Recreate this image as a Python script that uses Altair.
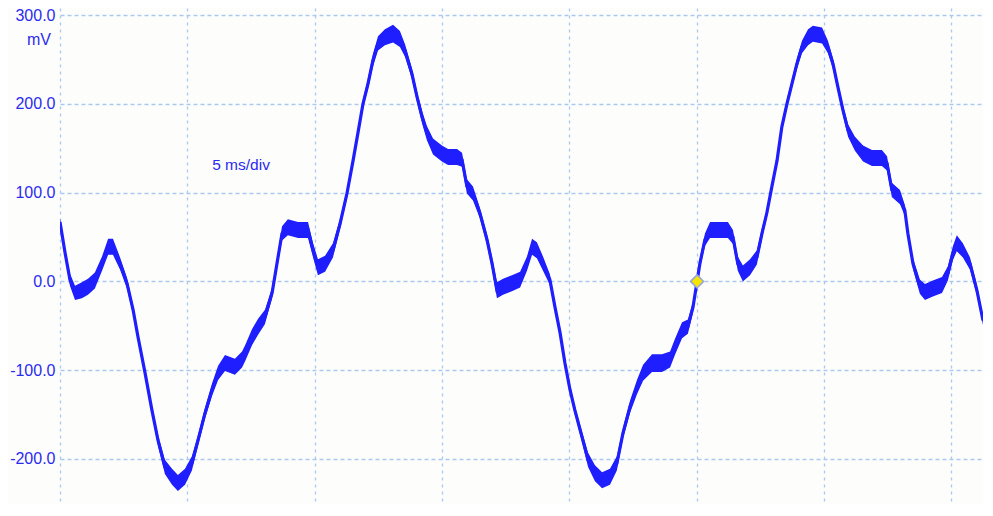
import altair as alt
import pandas as pd

# ---- data ----
time_ms = [0.00, 0.20, 0.39, 0.59, 0.86, 1.10, 1.37, 1.65, 1.89, 2.08, 2.36, 2.63, 2.87, 3.06, 3.34,
           3.61, 3.85, 4.12, 4.40, 4.63, 4.91, 5.18, 5.42, 5.69, 5.97, 6.21, 6.48, 6.87, 7.15, 7.27,
           7.54, 7.78, 8.05, 8.33, 8.52, 8.72, 8.95, 9.35, 9.74, 9.94, 10.13, 10.41, 10.72, 11.00,
           11.27, 11.51, 11.70, 11.90, 12.10, 12.29, 12.49, 12.76, 13.08, 13.35, 13.55, 13.82, 14.02,
           14.22, 14.41, 14.65, 15.00, 15.24, 15.59, 15.79, 15.98, 16.22, 16.49, 16.77, 16.97, 17.16,
           17.40, 17.75, 18.07, 18.34, 18.54, 18.73, 18.97, 19.24, 19.44, 19.64, 19.83, 20.03, 20.22,
           20.50, 20.74, 21.01, 21.29, 21.60, 21.87, 22.11, 22.39, 22.66, 22.90, 23.25, 23.64, 23.96,
           24.15, 24.43, 24.66, 24.86, 25.02, 25.13, 25.33, 25.53, 25.84, 26.23, 26.43, 26.62, 26.82,
           27.10, 27.37, 27.57, 27.76, 27.96, 28.16, 28.35, 28.55, 28.75, 28.94, 29.14, 29.38, 29.57,
           29.93, 30.16, 30.36, 30.55, 30.75, 30.95, 31.22, 31.54, 31.89, 32.28, 32.48, 32.67, 32.99,
           33.18, 33.30, 33.50, 33.77, 33.97, 34.28, 34.64, 34.87, 35.07, 35.22, 35.46, 35.74, 36.01,
           36.25]
voltage_mv = [67, 32, 2, -13, -10, -6, 1, 20, 39, 39, 20, -2, -32, -62, -103,
              -145, -179, -209, -220, -227, -220, -205, -179, -149, -122, -103, -92, -96, -88, -81,
              -63, -51, -40, -13, 20, 54, 61, 58, 58, 35, 16, 20, 35, 65,
              99, 136, 167, 200, 223, 249, 268, 275, 279, 273, 260, 234, 208,
              185, 167, 152, 144, 140, 140, 137, 107, 99, 77, 47, 20, -10,
              -6, -2, 2, 20, 39, 35, 20, 2, -29, -58, -92, -122, -145,
              -175, -201, -216, -224, -220, -205, -171, -141, -119, -103, -92, -92, -88,
              -74, -55, -51, -29, 0, 20, 47, 58, 58, 58, 50, 20, 9,
              16, 27, 54, 77, 107, 136, 174, 200, 223, 245, 264, 275, 279,
              277, 264, 245, 219, 193, 170, 155, 144, 139, 139, 133, 103, 95,
              80, 54, 20, -6, -12, -8, -4, 9, 32, 43, 35, 20, -10,
              -44]
# half-thickness of the noisy trace (mV)
spread_mv = [4, 5, 7, 8, 9, 9, 9, 8, 9, 9, 7, 6, 5, 5, 5,
             5, 6, 8, 9, 9, 9, 8, 6, 6, 7, 8, 9, 9, 9, 9,
             9, 9, 8, 6, 6, 8, 9, 9, 9, 8, 9, 9, 8, 6,
             5, 5, 5, 5, 6, 7, 8, 9, 10, 9, 7, 6, 6,
             7, 8, 9, 9, 9, 9, 8, 8, 8, 6, 6, 7, 9,
             9, 9, 9, 8, 9, 9, 8, 6, 5, 5, 5, 5, 5,
             6, 8, 9, 9, 9, 8, 6, 7, 8, 9, 10, 10, 9,
             9, 9, 8, 6, 5, 6, 7, 9, 9, 9, 8, 8, 9,
             9, 8, 6, 5, 5, 5, 5, 5, 5, 6, 7, 9, 9,
             9, 7, 6, 5, 6, 7, 8, 9, 9, 9, 8, 8, 8,
             6, 5, 6, 8, 9, 9, 9, 8, 8, 9, 8, 7, 6,
             5]
marker_time = [25.02]
marker_mv = [0.0]
y_ticks = [-200, -100, 0, 100, 200, 300]
x_ticks = [0, 5, 10, 15, 20, 25, 30, 35]
unit_label = ["mV"]
scale_label = ["5 ms/div"]
scale_label_pos = [7.11, 131]

BLUE = "#1e1eff"
TEXT = "#2b2bf0"
GRID = "#abc9ef"
FONT = "Liberation Sans"

df = pd.DataFrame({"t": time_ms, "v": voltage_mv, "s": spread_mv})
df["lo"] = df["v"] - df["s"]
df["hi"] = df["v"] + df["s"]

xs = alt.Scale(domain=[0, 36.25], nice=False, zero=False)
ys = alt.Scale(domain=[-250.7, 307.9], nice=False, zero=False)

x_axis = alt.Axis(values=x_ticks, grid=True, labels=False, ticks=False, domain=False, title=None,
                  gridDash=[3, 4], gridColor=GRID, gridWidth=1.3)
y_axis = alt.Axis(values=y_ticks, format=".1f", grid=True, ticks=False, domain=False, title=None,
                  labelExpr="replace(datum.label, '\u2212', '-')",
                  gridDash=[4, 3], gridColor=GRID, gridWidth=1.3, labelColor=TEXT,
                  labelFont=FONT, labelFontSize=16, labelPadding=5)

base = alt.Chart(df)
band = base.mark_area(color=BLUE, opacity=1, clip=True).encode(
    x=alt.X("t:Q", scale=xs, axis=x_axis),
    y=alt.Y("lo:Q", scale=ys, axis=y_axis),
    y2="hi:Q",
)
line = base.mark_line(color=BLUE, strokeWidth=3.2, clip=True).encode(
    x=alt.X("t:Q", scale=xs),
    y=alt.Y("v:Q", scale=ys),
)

marker = alt.Chart(pd.DataFrame({"t": marker_time, "v": marker_mv})).mark_point(
    shape="diamond", filled=True, fill="#f4e600", stroke="#98a4d8", strokeWidth=1.5,
    size=170, opacity=1
).encode(x=alt.X("t:Q", scale=xs), y=alt.Y("v:Q", scale=ys))

unit = alt.Chart(pd.DataFrame({"label": unit_label})).mark_text(
    align="right", baseline="middle", fontSize=16, font=FONT, color=TEXT
).encode(x=alt.value(-9), y=alt.value(32), text="label:N")

scale_txt = alt.Chart(pd.DataFrame({"label": scale_label, "t": [scale_label_pos[0]],
                                    "v": [scale_label_pos[1]]})).mark_text(
    align="center", baseline="middle", fontSize=15.5, font=FONT, color=TEXT
).encode(x=alt.X("t:Q", scale=xs), y=alt.Y("v:Q", scale=ys), text="label:N")

chart = alt.layer(band, line, marker, unit, scale_txt).properties(
    width=923, height=496,
    autosize=alt.AutoSizeParams(type="none"),
    padding={"left": 52, "top": 0, "right": 0, "bottom": 0},
    background="#fdfdfc",
).configure_view(stroke=None)

chart.save("out.html", embed_options={"renderer": "svg", "actions": False})
